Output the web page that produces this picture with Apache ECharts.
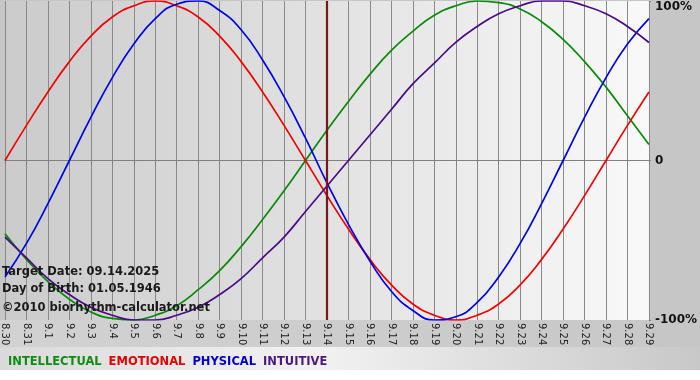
<!DOCTYPE html>
<html>
<head>
<meta charset="utf-8">
<script src="https://cdn.jsdelivr.net/npm/echarts@6/dist/echarts.min.js"></script>
<style>html,body{margin:0;padding:0;background:#fff}#c{width:700px;height:380px}</style>
</head>
<body>
<div id="c"></div>
<script>
var days = ['8.30','8.31','9.1','9.2','9.3','9.4','9.5','9.6','9.7','9.8','9.9','9.10','9.11','9.12','9.13','9.14','9.15','9.16','9.17','9.18','9.19','9.20','9.21','9.22','9.23','9.24','9.25','9.26','9.27','9.28','9.29'];
var intellectual = [-46,-62,-76,-87,-95,-99,-100,-97,-91,-81,-69,-54,-37,-19,0,19,37,54,69,81,91,97,100,99,95,87,76,62,46,28,10];
var emotional = [0,22,43,62,78,90,97,100,97,90,78,62,43,22,0,-22,-43,-62,-78,-90,-97,-100,-97,-90,-78,-62,-43,-22,0,22,43];
var physical = [-73,-52,-27,0,27,52,73,89,98,100,94,82,63,40,14,-14,-40,-63,-82,-94,-100,-98,-89,-73,-52,-27,0,27,52,73,89];
var intuitive = [-48,-61,-74,-84,-92,-97,-100,-100,-97,-92,-84,-74,-61,-48,-32,-16,0,16,32,48,61,74,84,92,97,100,100,97,92,84,74];
var yTicks = [-100, 0, 100];
var targetDay = '9.14';
var infoLines = ['Target Date: 09.14.2025', 'Day of Birth: 01.05.1946', '\u00a92010 biorhythm-calculator.net'];
var names = ['INTELLECTUAL', 'EMOTIONAL', 'PHYSICAL', 'INTUITIVE'];
var colors = ['#0a880a', '#f00000', '#0000e6', '#4b0a86'];
var legendColors = ['#138a13', '#e40000', '#0000cc', '#4b1a80'];

var chart = echarts.init(document.getElementById('c'), null, {renderer: 'canvas'});
var FONT = '"DejaVu Sans", Verdana, sans-serif';
var seriesData = [intellectual, emotional, physical, intuitive];
var series = names.map(function (n, k) {
  var s = {
    name: n, type: 'line', data: seriesData[k], smooth: 0.5, symbol: 'none',
    lineStyle: {color: colors[k], width: 1.7}, itemStyle: {color: colors[k]}, z: 3
  };
  if (k === 0) {
    s.markLine = {
      silent: true, symbol: 'none', label: {show: false},
      lineStyle: {color: '#761818', width: 2.2, type: 'solid'},
      data: [{xAxis: targetDay}]
    };
  }
  return s;
});

chart.setOption({
  backgroundColor: '#c6c6c6',
  animation: false,
  textStyle: {fontFamily: FONT},
  graphic: [
    {type: 'rect', z: -10, shape: {x: 0, y: 347, width: 700, height: 23},
     style: {fill: new echarts.graphic.LinearGradient(0, 0, 1, 0, [
       {offset: 0, color: '#dadada'}, {offset: 0.45, color: '#f2f2f2'}, {offset: 1, color: '#c8c8c8'}])}},
    {type: 'rect', z: -10, shape: {x: 0, y: 370, width: 700, height: 10}, style: {fill: '#ffffff'}},
    {type: 'rect', z: -10, shape: {x: 0, y: 320, width: 652, height: 27},
     style: {fill: new echarts.graphic.LinearGradient(0, 0, 1, 0, [
       {offset: 0, color: '#d2d2d2'}, {offset: 1, color: '#c8c8c8'}])}}
  ].concat(infoLines.map(function (t, i) {
    return {type: 'text', z: 10, left: 2, top: [266, 283, 302][i],
      style: {text: t, font: 'bold 11.5px ' + FONT, fill: '#1a1a1a'}};
  })),
  legend: {
    left: 0, bottom: 7, icon: 'none', itemWidth: 0, itemHeight: 10, itemGap: 4,
    selectedMode: false,
    textStyle: {fontFamily: FONT, fontWeight: 'bold', fontSize: 11.5, padding: [0, 0, 0, -2]},
    data: names.map(function (n, k) { return {name: n, textStyle: {color: legendColors[k]}}; })
  },
  grid: {
    left: 0, right: 49, top: 1, bottom: 60, show: true, borderWidth: 0,
    backgroundColor: new echarts.graphic.LinearGradient(0, 0, 1, 0, [
      {offset: 0, color: '#cbcbcb'}, {offset: 1, color: '#f9f9f9'}])
  },
  xAxis: {
    type: 'category', data: days, boundaryGap: false,
    axisLine: {show: true, lineStyle: {color: '#808080', width: 1}},
    axisTick: {show: true, length: 5, interval: 0, lineStyle: {color: '#808080'}},
    axisLabel: {interval: 0, rotate: -90, fontSize: 10, color: '#222', margin: 3, fontFamily: FONT},
    splitLine: {show: true, interval: 0, lineStyle: {color: '#8a8a8a', width: 1}}
  },
  yAxis: {
    type: 'value', min: -100, max: 100, interval: 100, position: 'right',
    axisLine: {show: false},
    axisTick: {show: true, length: 2, lineStyle: {color: '#808080'}},
    axisLabel: {
      margin: 6, fontSize: 12, fontWeight: 'bold', color: '#111', fontFamily: FONT,
      verticalAlignMaxLabel: 'top',
      formatter: function (v) { return v === 0 ? '0' : v + '%'; }
    },
    splitLine: {show: true, lineStyle: {color: ['rgba(0,0,0,0)', '#808080', 'rgba(0,0,0,0)'], width: 1}}
  },
  series: series
});
</script>
</body>
</html>
